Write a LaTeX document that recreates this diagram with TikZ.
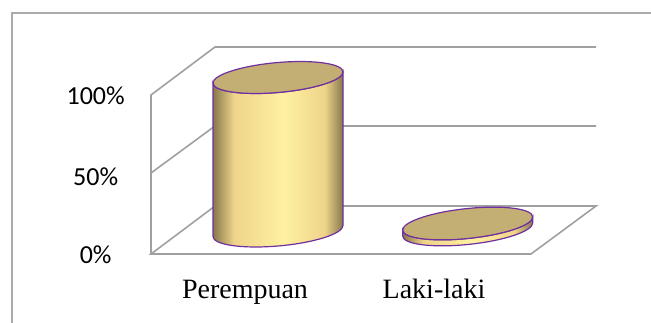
\documentclass[tikz,border=0pt]{standalone}
\usepackage{fontspec}
\setmainfont{Liberation Serif}
\newfontfamily\axisfont{Carlito}
\usepackage{tikz}
\definecolor{gridgray}{RGB}{160,160,160}
\definecolor{framegray}{RGB}{170,170,170}
\definecolor{rimpurple}{RGB}{112,48,160}
\definecolor{topface}{RGB}{195,175,115}
\definecolor{sidedark}{RGB}{135,120,75}
\definecolor{sidemid}{RGB}{238,212,138}
\definecolor{sidelight}{RGB}{255,241,162}
\pgfdeclarehorizontalshading{cylshade}{100bp}{color(0bp)=(sidedark); color(25bp)=(sidedark); color(33bp)=(sidemid); color(52bp)=(sidelight); color(68bp)=(sidemid); color(75bp)=(sidedark); color(100bp)=(sidedark)}
\tikzstyle{frame} = [draw=framegray, line width=1pt]
\tikzstyle{grid} = [draw=gridgray, line width=1.2pt]
\tikzstyle{axislabel} = [anchor=east, inner sep=0pt, font=\axisfont\fontsize{19.5}{21}\selectfont]
\tikzstyle{catlabel} = [anchor=base, inner sep=0pt, font=\fontsize{21}{24}\selectfont]
\tikzstyle{rim} = [draw=rimpurple, line width=0.9pt]
% bar: center x, bottom y, top y, slant
\newcommand{\drawbar}[4]{%
\begin{scope}[shift={(#1,#2)}, yslant=#4]
\shade[shading=cylshade, rim] (-65,#3-#2) -- (-65,0)
  arc[start angle=180, end angle=360, x radius=65, y radius=15]
  -- (65,#3-#2) arc[start angle=0, end angle=-180, x radius=65, y radius=15] -- cycle;
\filldraw[fill=topface, rim] (0,#3-#2) ellipse [x radius=65, y radius=15];
\end{scope}}

\begin{document}
\begin{tikzpicture}[x=0.75pt, y=0.75pt, node distance=60pt]
\useasboundingbox (0,0) rectangle (651,322);
\begin{scope}
\clip (0,0) rectangle (651,322);
\draw [frame] (12,-20) -- (12,309) -- (680,309);
\end{scope}

% walls and gridlines
\draw [grid] (151,68) -- (151,227) -- (215,275) -- (596,275);
\draw [grid] (151,149) -- (215,196) -- (596,196);
\draw [grid] (151,68) -- (215,116) -- (596,116) -- (531,68) -- cycle;

% axis labels
\node (p100) [axislabel] at (125,226) {100\%};
\node (p50) [axislabel, below of=p100, yshift=-0.75pt] {50\%};
\node (p0) [axislabel, below of=p50, yshift=1.5pt] {0\%};

% bars
\drawbar{278}{91}{244.5}{0.085}
\drawbar{467.7}{92.5}{98.5}{0.1}

% categories
\node (perempuan) [catlabel] at (245,24) {Perempuan};
\node (laki) [catlabel] at (434,24) {Laki-laki};

\end{tikzpicture}
\end{document}
